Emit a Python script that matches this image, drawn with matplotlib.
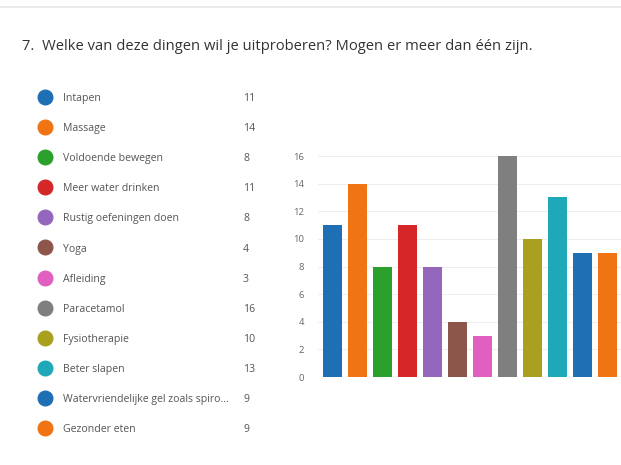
import matplotlib.pyplot as plt
from matplotlib.lines import Line2D

# survey answers
categories = ['Intapen', 'Massage', 'Voldoende bewegen', 'Meer water drinken',
              'Rustig oefeningen doen', 'Yoga', 'Afleiding', 'Paracetamol',
              'Fysiotherapie', 'Beter slapen',
              'Watervriendelijke gel zoals spiro...', 'Gezonder eten']
counts = [11, 14, 8, 11, 8, 4, 3, 16, 10, 13, 9, 9]
colors = ['#1f6fb4', '#f07314', '#2ca02c', '#d62728', '#9467bd', '#8c564b',
          '#e05fc0', '#7f7f7f', '#a8a01e', '#1fa9b8', '#1f6fb4', '#f07314']
yticks = [0, 2, 4, 6, 8, 10, 12, 14, 16]
title = '7.  Welke van deze dingen wil je uitproberen? Mogen er meer dan één zijn.'

plt.rcParams['font.family'] = ['Open Sans', 'DejaVu Sans']

W, H = 621, 465
fig = plt.figure(figsize=(W / 100, H / 100), dpi=100)
fig.patch.set_facecolor('white')

# faint band at the top of the screenshot
fig.add_artist(Line2D([0, 1], [1 - 7 / H, 1 - 7 / H], color='#e8e8e8', lw=1.2))

fig.text(22 / W, 1 - 44 / H, title, fontsize=10.6, color='#333333',
         va='center_baseline')

# legend list on the left
for i, (name, n, c) in enumerate(zip(categories, counts, colors)):
    y = 1 - (97 + 30.1 * i) / H
    fig.add_artist(Line2D([45 / W], [y], marker='o', markersize=10.5,
                          color=c, markeredgecolor=c, linestyle='none'))
    fig.text(63 / W, y, name, fontsize=7.6, color='#555555', va='center_baseline')
    fig.text(243 / W, y, str(n), fontsize=7.6, color='#555555', va='center_baseline')

# bar chart, cut off at the right edge like the screenshot
left, right = 318, 621
bottom, top = 377, 156
ax = fig.add_axes([left / W, 1 - bottom / H, (right - left) / W, (bottom - top) / H])
x = list(range(len(counts)))
ax.bar(x, counts, width=0.76, color=colors, zorder=3)
ax.set_xlim((left - 332) / 25, (right - 332) / 25)
ax.set_ylim(0, 16)
ax.set_yticks(yticks)
ax.set_xticks([])
ax.tick_params(axis='y', length=0, labelsize=6.8, labelcolor='#666666', pad=10)
ax.grid(axis='y', color='#eeeeee', lw=0.8, zorder=0)
for s in ax.spines.values():
    s.set_visible(False)

fig.savefig('out.png', dpi=100)
